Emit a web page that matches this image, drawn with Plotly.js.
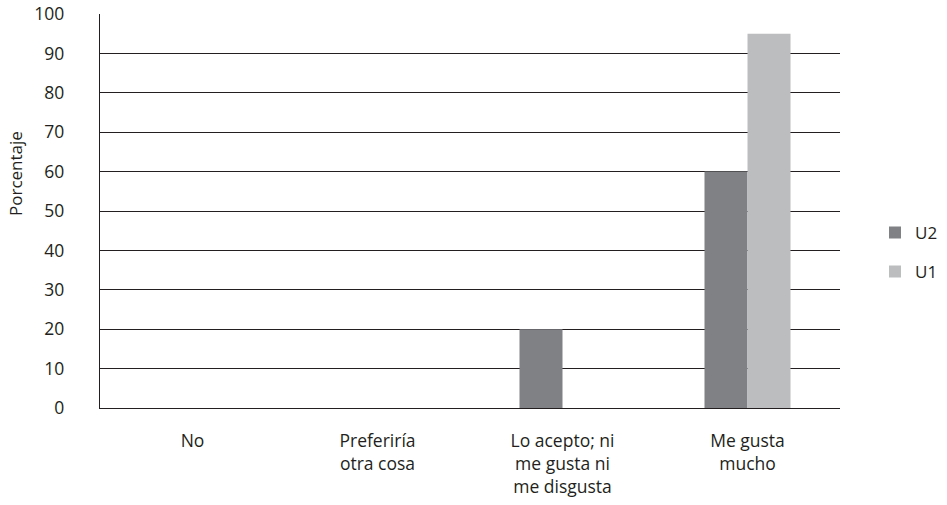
<!DOCTYPE html>
<html>
<head>
<meta charset="utf-8">
<script src="https://cdn.plot.ly/plotly-3.0.1.min.js"></script>
<style>html,body{margin:0;padding:0;background:#fff;}</style>
</head>
<body>
<div id="chart" style="width:947px;height:505px;"></div>
<script>
const categories = ["No", "Preferiría<br>otra cosa", "Lo acepto; ni<br>me gusta ni<br>me disgusta", "Me gusta<br>mucho"];
const seriesNames = ["U2", "U1"];
const valuesU2 = [0, 0, 20, 60];
const valuesU1 = [0, 0, 0, 95];
const yTicks = [0, 10, 20, 30, 40, 50, 60, 70, 80, 90, 100];
const yTitle = "Porcentaje";

const fam = "'Open Sans', sans-serif";
const txt = "#231f20";

const traces = [
  {type: "bar", name: seriesNames[0], x: categories, y: valuesU2, marker: {color: "#808184"}, legendgroup: "a", hoverinfo: "skip"},
  {type: "bar", name: seriesNames[1], x: categories, y: valuesU1, marker: {color: "#bcbdbf"}, legendgroup: "b", hoverinfo: "skip"}
];

const layout = {
  width: 947, height: 505,
  margin: {l: 100, r: 107, t: 14, b: 97, autoexpand: false},
  paper_bgcolor: "#fff", plot_bgcolor: "#fff",
  font: {family: fam, size: 17, color: txt},
  barmode: "group",
  bargap: 0.535,
  bargroupgap: 0,
  showlegend: true,
  legend: {x: 1.0473, xanchor: "left", y: 0.395, yanchor: "middle", xref: "paper", yref: "paper",
           font: {family: fam, size: 17, color: txt},
           traceorder: "grouped", tracegroupgap: 14, itemwidth: 30},
  xaxis: {
    type: "category",
    showgrid: false, zeroline: false,
    showline: true, linecolor: txt, linewidth: 1.3,
    ticks: "outside", ticklen: 17, tickcolor: "rgba(0,0,0,0)",
    tickfont: {family: fam, size: 17.5, color: txt},
    fixedrange: true
  },
  yaxis: {
    range: [0, 100],
    tickvals: yTicks, ticktext: yTicks.map(String),
    showgrid: true, gridcolor: txt, gridwidth: 1,
    zeroline: false,
    showline: true, linecolor: txt, linewidth: 1.3,
    ticks: "outside", ticklen: 31, tickcolor: "rgba(0,0,0,0)",
    tickfont: {family: fam, size: 17.5, color: txt},
    fixedrange: true
  },
  annotations: [{
    text: yTitle, textangle: -90, showarrow: false,
    xref: "paper", yref: "paper", x: (15 - 100) / 740, y: (408 - 174) / 394,
    xanchor: "center", yanchor: "middle",
    font: {family: fam, size: 17, color: txt}
  }]
};

Plotly.newPlot("chart", traces, layout, {displayModeBar: false, staticPlot: true});
</script>
</body>
</html>
